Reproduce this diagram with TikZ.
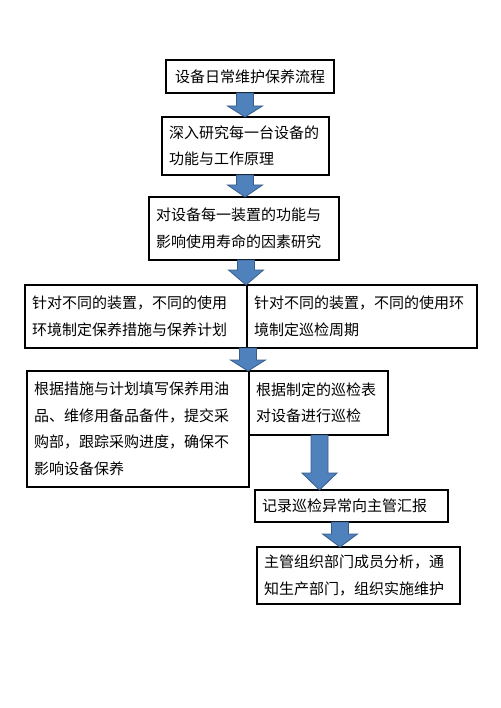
\documentclass[tikz,border=0pt]{standalone}
\usepackage{fontspec}
\setmainfont{Noto Sans CJK SC}
\usetikzlibrary{calc}
\definecolor{arrfill}{RGB}{79,129,189}
\definecolor{arrline}{RGB}{56,93,138}
\tikzset{%
  stepbox/.style = {shape=rectangle, draw, line width=1.2pt,%
                    anchor=north west, outer sep=0pt,%
                    inner xsep=7pt, inner ysep=0pt, align=left,%
                    font=\fontsize{15}{26.5}\selectfont},%
  titlebox/.style = {stepbox, align=center},%
  flowarrow/.style = {fill=arrfill, draw=arrline, line width=0.8pt,%
                    line join=miter}%
}
% block arrow: from node, to node, x of centre, head length
\newcommand{\flowarr}[4]{%
  \draw[flowarrow] let \p1=(#1.south), \p2=(#2.north) in
    (#3pt-8.5pt,\y1) -- (#3pt+8.5pt,\y1) -- (#3pt+8.5pt,\y2+#4pt)
    -- (#3pt+17.5pt,\y2+#4pt) -- (#3pt,\y2) -- (#3pt-17.5pt,\y2+#4pt)
    -- (#3pt-8.5pt,\y2+#4pt) -- cycle;}

\begin{document}
\begin{tikzpicture}[x=1pt,y=-1pt]
	\useasboundingbox (0,0) rectangle (500,708);
	\node[titlebox, text width=154pt, minimum height=33pt] (title) at (166,60)%
		{设备日常维护保养流程};
	\node[stepbox, text width=153pt, minimum height=58pt] (study) at (162,117)%
		{深入研究每一台设备的\\功能与工作原理};
	\node[stepbox, text width=176pt, minimum height=63pt] (factor) at (149,197)%
		{对设备每一装置的功能与\\影响使用寿命的因素研究};
	\node[stepbox, text width=208pt, minimum height=63pt] (plan) at (25,285)%
		{针对不同的装置，不同的使用\\环境制定保养措施与保养计划};
	\node[stepbox, text width=216pt, minimum height=63pt] (cycle) at (247,285)%
		{针对不同的装置，不同的使用环\\境制定巡检周期};
	\node[stepbox, text width=208pt, minimum height=116pt] (purchase) at (27,371)%
		{根据措施与计划填写保养用油\\品、维修用备品备件，提交采\\购部，跟踪采购进度，确保不\\影响设备保养};
	\node[stepbox, text width=125pt, minimum height=64pt] (patrol) at (249,371)%
		{根据制定的巡检表\\对设备进行巡检};
	\node[stepbox, text width=179pt, minimum height=32pt] (report) at (255,490)%
		{记录巡检异常向主管汇报};
	\node[stepbox, text width=189pt, minimum height=57pt] (repair) at (257,547)%
		{主管组织部门成员分析，通\\知生产部门，组织实施维护};
	% arrows
	\flowarr{title}{study}{245}{11}
	\flowarr{study}{factor}{245}{12}
	\flowarr{factor}{plan}{246}{15}
	\flowarr{plan}{purchase}{248}{11}
	\flowarr{patrol}{report}{319.5}{17}
	\flowarr{report}{repair}{340}{13}
\end{tikzpicture}
\end{document}
